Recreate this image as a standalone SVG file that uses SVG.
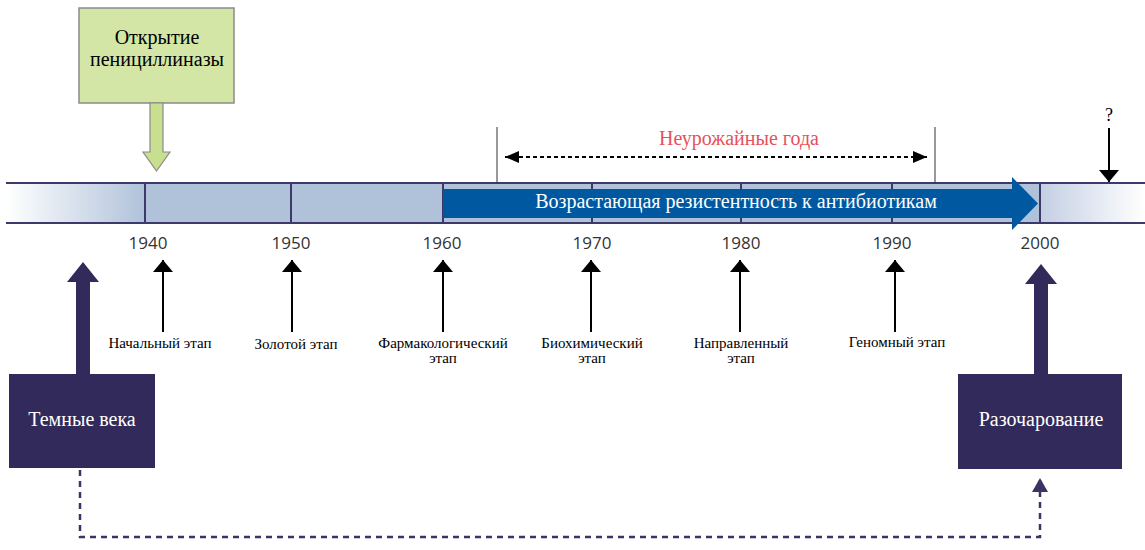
<svg xmlns="http://www.w3.org/2000/svg" width="1145" height="550" viewBox="0 0 1145 550">
<style>
.serif{font-family:"Liberation Serif","Times New Roman",serif;}
.sans{font-family:"Open Sans","Liberation Sans",Arial,sans-serif;}
.yr{font-size:17px;fill:#333;text-anchor:middle;}
.stage{font-size:15px;fill:#000;text-anchor:middle;}
.div{stroke:#3d3a6b;stroke-width:2;}
.thin{stroke:#000;stroke-width:2;fill:none;}
.box{fill:#312a5a;}
.boxt{font-size:20px;fill:#fff;text-anchor:middle;}
</style>
<defs>
<linearGradient id="gl" x1="0" x2="1" y1="0" y2="0">
<stop offset="0" stop-color="#ffffff"/>
<stop offset="1" stop-color="#b0c2da"/>
</linearGradient>
<linearGradient id="gr" x1="0" x2="1" y1="0" y2="0">
<stop offset="0" stop-color="#c4cfe3"/>
<stop offset="1" stop-color="#ffffff"/>
</linearGradient>
<marker id="ah" viewBox="0 0 12 20" refX="12" refY="10" markerWidth="12" markerHeight="20" markerUnits="userSpaceOnUse" orient="auto">
<path d="M0,0 L12,10 L0,20 Z" fill="#000"/>
</marker>
<marker id="ahs" viewBox="0 0 14 12" refX="14" refY="6" markerWidth="14" markerHeight="12" markerUnits="userSpaceOnUse" orient="auto-start-reverse">
<path d="M0,0 L14,6 L0,12 Z" fill="#000"/>
</marker>
<marker id="ahd" viewBox="0 0 14 16" refX="14" refY="8" markerWidth="14" markerHeight="16" markerUnits="userSpaceOnUse" orient="auto">
<path d="M0,0 L14,8 L0,16 Z" fill="#3a3466"/>
</marker>
</defs>

<g id="timeline">
<rect x="6" y="183" width="139" height="40" fill="url(#gl)"/>
<rect x="145" y="183" width="895" height="40" fill="#b0c2da"/>
<rect x="1040" y="183" width="105" height="40" fill="url(#gr)"/>
<line x1="6" y1="183" x2="1145" y2="183" class="div"/>
<line x1="6" y1="223" x2="1145" y2="223" class="div"/>
<line x1="145" y1="183" x2="145" y2="223" class="div"/>
<line x1="291" y1="183" x2="291" y2="223" class="div"/>
<line x1="443" y1="183" x2="443" y2="223" class="div"/>
<line x1="592" y1="183" x2="592" y2="223" class="div"/>
<line x1="741" y1="183" x2="741" y2="223" class="div"/>
<line x1="892" y1="183" x2="892" y2="223" class="div"/>
<line x1="1040" y1="183" x2="1040" y2="223" class="div"/>
<text class="sans yr" x="148" y="249">1940</text>
<text class="sans yr" x="291" y="249">1950</text>
<text class="sans yr" x="442" y="249">1960</text>
<text class="sans yr" x="592" y="249">1970</text>
<text class="sans yr" x="741" y="249">1980</text>
<text class="sans yr" x="892" y="249">1990</text>
<text class="sans yr" x="1040" y="249">2000</text>
</g>

<g id="resistance">
<path d="M443,189 L1012,189 L1012,177 L1038,203.5 L1012,230 L1012,218 L443,218 Z" fill="#0059a0"/>
<text class="serif" x="736" y="208" font-size="20" fill="#fff" text-anchor="middle">Возрастающая резистентность к антибиотикам</text>
</g>

<g id="penicillinase">
<rect x="79" y="8" width="155" height="95" fill="#d4e6a5" stroke="#8a8a8a" stroke-width="1.5"/>
<text class="serif" x="157" y="44" font-size="20" text-anchor="middle" fill="#000">Открытие</text>
<text class="serif" x="157" y="66" font-size="20" text-anchor="middle" fill="#000">пенициллиназы</text>
<path d="M150,103 L163,103 L163,152 L170,152 L156.5,171 L143,152 L150,152 Z" fill="#c8df8f" stroke="#8a8a8a" stroke-width="1.2"/>
</g>

<g id="lean-years">
<line x1="497" y1="127" x2="497" y2="183" stroke="#333" stroke-width="1"/>
<line x1="935" y1="127" x2="935" y2="183" stroke="#333" stroke-width="1"/>
<text class="serif" x="739" y="145" font-size="20" fill="#e8505b" text-anchor="middle">Неурожайные года</text>
</g>

<g id="question">
<text class="serif" x="1109" y="121" font-size="18" fill="#000" text-anchor="middle">?</text>
</g>

<g id="stages">
<text class="serif stage" x="160" y="348">Начальный этап</text>
<text class="serif stage" x="296" y="349">Золотой этап</text>
<text class="serif stage" x="443" y="348">Фармакологический</text>
<text class="serif stage" x="443" y="363">этап</text>
<text class="serif stage" x="592" y="348">Биохимический</text>
<text class="serif stage" x="592" y="363">этап</text>
<text class="serif stage" x="741" y="348">Направленный</text>
<text class="serif stage" x="741" y="363">этап</text>
<text class="serif stage" x="897" y="347">Геномный этап</text>
</g>

<g id="dark-ages">
<path d="M76,374 L76,282 L67,282 L83,262 L99,282 L90,282 L90,374 Z" fill="#312a5a"/>
<rect class="box" x="9" y="374" width="146" height="94"/>
<text class="serif boxt" x="82" y="426">Темные века</text>
</g>

<g id="disappointment">
<path d="M1034,374 L1034,284 L1025,284 L1041,264 L1057,284 L1048,284 L1048,374 Z" fill="#312a5a"/>
<rect class="box" x="958" y="374" width="164" height="95"/>
<text class="serif boxt" x="1041" y="426">Разочарование</text>
</g>

<g id="connectors">
<line x1="505" y1="157" x2="927" y2="157" stroke="#000" stroke-width="2" stroke-dasharray="4,3" marker-start="url(#ahs)" marker-end="url(#ahs)"/>
<line x1="1109" y1="128" x2="1109" y2="182" class="thin" marker-end="url(#ah)"/>
<line x1="163" y1="332" x2="163" y2="260" class="thin" marker-end="url(#ah)"/>
<line x1="292" y1="332" x2="292" y2="260" class="thin" marker-end="url(#ah)"/>
<line x1="443" y1="332" x2="443" y2="260" class="thin" marker-end="url(#ah)"/>
<line x1="591" y1="332" x2="591" y2="260" class="thin" marker-end="url(#ah)"/>
<line x1="740" y1="332" x2="740" y2="260" class="thin" marker-end="url(#ah)"/>
<line x1="895" y1="332" x2="895" y2="260" class="thin" marker-end="url(#ah)"/>
<path d="M80,470 L80,537 L1040,537 L1040,478" fill="none" stroke="#3a3466" stroke-width="2.5" stroke-dasharray="6,5" marker-end="url(#ahd)"/>
</g>
</svg>
